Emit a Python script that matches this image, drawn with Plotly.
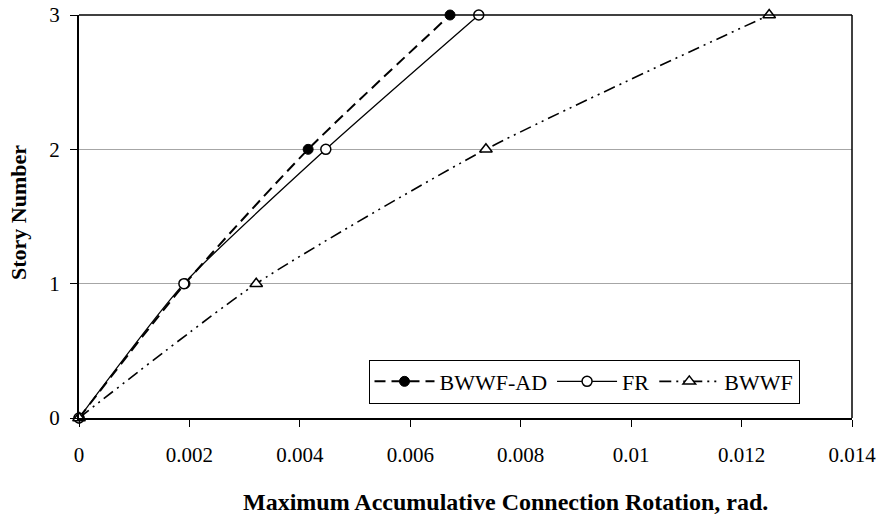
import plotly.graph_objects as go

stories = [0, 1, 2, 3]
bwwf_ad = [0.0, 0.00192, 0.00415, 0.00672]
fr = [0.0, 0.00190, 0.00447, 0.00724]
bwwf = [0.0, 0.00321, 0.00737, 0.01250]
x_ticks = [0, 0.002, 0.004, 0.006, 0.008, 0.01, 0.012, 0.014]
x_tick_labels = ["0", "0.002", "0.004", "0.006", "0.008", "0.01", "0.012", "0.014"]
y_ticks = [0, 1, 2, 3]

FONT = "Liberation Serif"

fig = go.Figure()
fig.add_trace(go.Scatter(
    x=bwwf_ad, y=stories, name="BWWF-AD", mode="lines+markers", cliponaxis=False,
    line=dict(color="black", width=2, dash="11px,6px", shape="spline", smoothing=0.6),
    marker=dict(symbol="circle", size=10, color="black", line=dict(color="black", width=1)),
))
fig.add_trace(go.Scatter(
    x=fr, y=stories, name="FR", mode="lines+markers", cliponaxis=False,
    line=dict(color="black", width=1.3, shape="spline", smoothing=0.6),
    marker=dict(symbol="circle", size=10, color="white", line=dict(color="black", width=1.5)),
))
fig.add_trace(go.Scatter(
    x=bwwf, y=stories, name="BWWF", mode="lines+markers", cliponaxis=False,
    line=dict(color="black", width=1.6, dash="12px,5px,2px,5px,2px,5px", shape="spline", smoothing=0.6),
    marker=dict(symbol="triangle-up", size=11, color="white", line=dict(color="black", width=1.5)),
))

fig.update_layout(
    width=885, height=521,
    margin=dict(l=79, r=33, t=15, b=103, autoexpand=False),
    paper_bgcolor="white", plot_bgcolor="white",
    font=dict(family=FONT, size=20, color="black"),
    showlegend=True,
    legend=dict(
        orientation="h", x=(584 - 79) / 773, y=0.145, xanchor="center", yanchor="top",
        bordercolor="black", borderwidth=1, bgcolor="white",
        font=dict(family=FONT, size=22, color="black"),
        itemwidth=60, itemsizing="trace",
    ),
    xaxis=dict(
        range=[0, 0.014], tickvals=x_ticks, ticktext=x_tick_labels,
        showgrid=False, zeroline=False, automargin=False,
        showline=True, linecolor="black", linewidth=2,
        ticks="outside", ticklen=7, tickcolor="black", tickwidth=1,
        tickfont=dict(family=FONT, size=21), ticklabelstandoff=10,
    ),
    yaxis=dict(
        range=[0, 3], tickvals=y_ticks, automargin=False,
        showgrid=True, gridcolor="#a6a6a6", gridwidth=1, zeroline=False,
        showline=True, linecolor="black", linewidth=2,
        ticks="outside", ticklen=7, tickcolor="black", tickwidth=1,
        tickfont=dict(family=FONT, size=21), ticklabelstandoff=6,
    ),
    shapes=[
        dict(type="line", xref="paper", yref="paper", x0=0, x1=1, y0=1, y1=1,
             line=dict(color="black", width=1.5)),
        dict(type="line", xref="paper", yref="paper", x0=1, x1=1, y0=0, y1=1,
             line=dict(color="black", width=1.5)),
    ],
    annotations=[
        dict(text="<b>Maximum Accumulative Connection Rotation, rad.</b>",
             xref="paper", yref="paper", x=(505 - 79) / 773, y=-(502 - 418.3) / 403.6,
             xanchor="center", yanchor="middle", showarrow=False,
             font=dict(family=FONT, size=24)),
        dict(text="<b>Story Number</b>", textangle=-90,
             xref="paper", yref="paper", x=-(79 - 18) / 773, y=(418.3 - 213) / 403.6,
             xanchor="center", yanchor="middle", showarrow=False,
             font=dict(family=FONT, size=22)),
    ],
)
fig.write_html("out.html")
